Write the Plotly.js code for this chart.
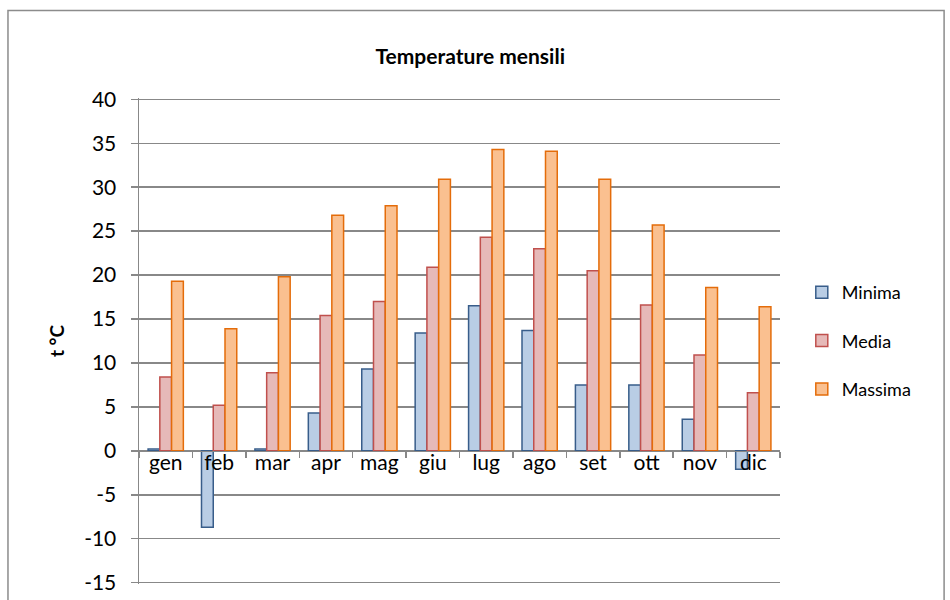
<!DOCTYPE html>
<html>
<head>
<meta charset="utf-8">
<script src="https://cdn.plot.ly/plotly-3.0.1.min.js"></script>
<style>html,body{margin:0;padding:0;background:#fff;}#chart{width:950px;height:600px;}</style>
</head>
<body>
<div id="chart"></div>
<script>
const months = ["gen","feb","mar","apr","mag","giu","lug","ago","set","ott","nov","dic"];
const minima = [0.2,-8.7,0.2,4.3,9.3,13.4,16.5,13.7,7.5,7.5,3.6,-2.1];
const media = [8.4,5.2,8.9,15.4,17.0,20.9,24.3,23.0,20.5,16.6,10.9,6.6];
const massima = [19.3,13.9,19.8,26.8,27.9,30.9,34.3,34.1,30.9,25.7,18.6,16.4];
const seriesNames = ["Minima","Media","Massima"];
const yRange = [-15.15, 40.15];
const yTicks = [-15,-10,-5,0,5,10,15,20,25,30,35,40];

const FONT = "Lato, 'Open Sans', sans-serif";
const fills = ["#B9CDE5","#E6B9B8","#FAC090"];
const lines = ["#385D8A","#C0504D","#E46C0A"];
const data = [minima, media, massima].map((vals, i) => ({
  type: "bar",
  name: seriesNames[i],
  x: months,
  y: vals,
  legendgroup: "g" + i,
  marker: {color: fills[i], line: {color: lines[i], width: 1.5}},
  hoverinfo: "x+y+name"
}));

const zeroPos = (0 - yRange[0]) / (yRange[1] - yRange[0]);

const layout = {
  width: 950, height: 600,
  margin: {l: 139, r: 170, t: 98, b: 16},
  paper_bgcolor: "#fff", plot_bgcolor: "#fff",
  font: {family: FONT, size: 20, color: "#000"},
  title: {text: "<b>Temperature mensili</b>", font: {family: FONT, size: 21, color: "#000"},
          x: 0.495, xref: "container", xanchor: "center", y: 0.905, yref: "container", yanchor: "middle"},
  barmode: "group", bargap: 0.34, bargroupgap: 0,
  xaxis: {
    type: "category", anchor: "free", position: zeroPos,
    showline: true, linecolor: "#888", linewidth: 1.5,
    ticks: "outside", tickson: "boundaries", ticklen: 6, tickcolor: "#888", tickwidth: 1.5,
    showgrid: false, zeroline: false, fixedrange: true, ticklabelstandoff: -8,
    tickfont: {family: FONT, size: 21, color: "#000"}
  },
  yaxis: {
    range: yRange, tickvals: yTicks, ticktext: yTicks.map(String),
    showline: true, linecolor: "#888", linewidth: 1.5,
    ticks: "outside", ticklen: 7, tickcolor: "#888", tickwidth: 1.5,
    showgrid: true, gridcolor: "#888", gridwidth: 1.5,
    zeroline: false, fixedrange: true, ticklabelstandoff: 10,
    tickfont: {family: FONT, size: 21, color: "#000"},
    title: {text: "<b>t °C</b>", font: {family: FONT, size: 19, color: "#000"}, standoff: 14}
  },
  legend: {
    x: 1.034, xanchor: "left", y: 0.5, yanchor: "middle",
    font: {family: FONT, size: 18, color: "#000"},
    tracegroupgap: 22, itemwidth: 30, bgcolor: "rgba(0,0,0,0)"
  },
  shapes: [{
    type: "rect", xref: "paper", yref: "paper",
    x0: -0.2044, x1: 1.256, y0: -0.06, y1: 1.18,
    line: {color: "#8c8c8c", width: 1.5}, fillcolor: "rgba(0,0,0,0)", layer: "below"
  }],
  showlegend: true
};

Plotly.newPlot("chart", data, layout, {displayModeBar: false, staticPlot: true});
</script>
</body>
</html>
